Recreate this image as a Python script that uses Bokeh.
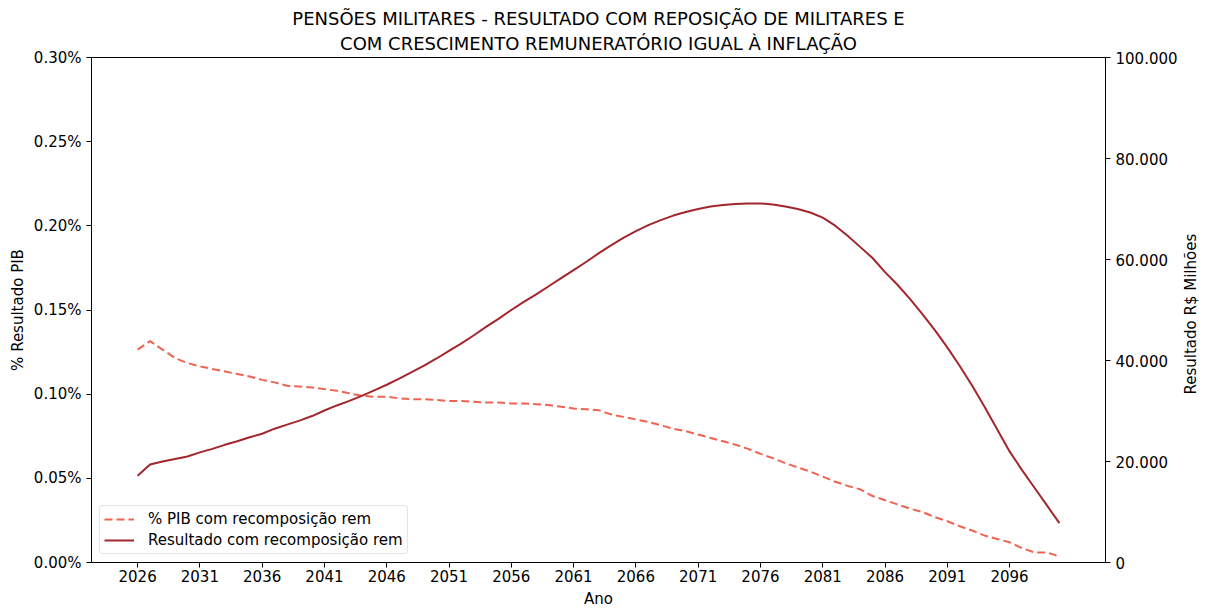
import math
from bokeh.plotting import figure
from bokeh.layouts import row
from bokeh.models import (Range1d, LinearAxis, FixedTicker, CustomJSTickFormatter,
                          Legend, LegendItem, Title)
from bokeh.core.properties import value
from bokeh.embed import file_html
from bokeh.resources import INLINE

years = list(range(2026, 2101))

# % do PIB (valores em %)
pct_pib = [0.1265, 0.1315, 0.1265, 0.1215, 0.1185, 0.1165, 0.1150, 0.1135, 0.1120, 0.1105,
           0.1085, 0.1070, 0.1050, 0.1045, 0.1040, 0.1030, 0.1020, 0.1005, 0.0990, 0.0985,
           0.0985, 0.0975, 0.0970, 0.0970, 0.0965, 0.0960, 0.0960, 0.0955, 0.0950, 0.0950,
           0.0945, 0.0945, 0.0940, 0.0935, 0.0925, 0.0915, 0.0910, 0.0905, 0.0880, 0.0865,
           0.0850, 0.0835, 0.0815, 0.0795, 0.0780, 0.0760, 0.0740, 0.0720, 0.0700, 0.0675,
           0.0645, 0.0620, 0.0590, 0.0565, 0.0540, 0.0510, 0.0480, 0.0455, 0.0435, 0.0395,
           0.0370, 0.0345, 0.0320, 0.0300, 0.0270, 0.0245, 0.0215, 0.0190, 0.0160, 0.0140,
           0.0120, 0.0085, 0.0060, 0.0060, 0.0035]

# Resultado em R$ milhões
resultado = [17200, 19400, 20000, 20500, 21000, 21800, 22500, 23300, 24000, 24800,
             25500, 26500, 27300, 28100, 29000, 30100, 31100, 32000, 33000, 34100,
             35200, 36400, 37700, 39000, 40400, 41900, 43400, 45000, 46700, 48300,
             50000, 51600, 53100, 54700, 56300, 57900, 59500, 61200, 62800, 64300,
             65600, 66800, 67800, 68700, 69400, 70000, 70500, 70800, 71000, 71100,
             71100, 70900, 70500, 70000, 69300, 68300, 66700, 64700, 62500, 60300,
             57500, 55000, 52200, 49200, 46000, 42600, 38900, 35000, 30800, 26400,
             22000, 18300, 14800, 11300, 7800]

x_ticks = list(range(2026, 2100, 5))
left_ticks = [0.0, 0.05, 0.10, 0.15, 0.20, 0.25, 0.30]
right_ticks = [0, 20000, 40000, 60000, 80000, 100000]

title_line1 = "PENSÕES MILITARES - RESULTADO COM REPOSIÇÃO DE MILITARES E"
title_line2 = "COM CRESCIMENTO REMUNERATÓRIO IGUAL À INFLAÇÃO"
right_label = "Resultado R$ Milhões"

FONT = "DejaVu Sans"
FS = "15px"
H = 610

p = figure(width=1180, height=H, output_backend="svg", toolbar_location=None,
           title=None,
           x_range=Range1d(2022.3, 2103.7), y_range=Range1d(0, 0.30),
           min_border_left=91, min_border_right=74, min_border_top=57,
           min_border_bottom=48)
p.extra_y_ranges = {"right": Range1d(0, 100000)}

for txt, so in ((title_line2, 7), (title_line1, -3)):
    t = Title(text=txt, align="center", text_font=FONT, text_font_size="18px",
              text_font_style="normal", text_color="#000000", standoff=so, offset=0)
    p.add_layout(t, "above")

p.grid.visible = False
p.outline_line_color = "#000000"
p.outline_line_width = 1
p.background_fill_color = "white"
p.border_fill_color = "white"

def style_axis(ax):
    ax.axis_line_color = "#000000"
    ax.major_tick_line_color = "#000000"
    ax.major_tick_out = 5
    ax.major_tick_in = 0
    ax.minor_tick_line_color = None
    ax.major_label_text_font = FONT
    ax.major_label_text_font_size = FS
    ax.major_label_text_color = "#000000"
    ax.axis_label_text_font = FONT
    ax.axis_label_text_font_size = FS
    ax.axis_label_text_font_style = "normal"
    ax.axis_label_text_color = "#000000"
    ax.major_label_standoff = 5
    ax.axis_label_standoff = 5

xa = p.xaxis[0]
style_axis(xa)
xa.ticker = FixedTicker(ticks=x_ticks)
xa.axis_label = "Ano"
xa.major_label_standoff = 2
xa.axis_label_standoff = 5

ya = p.yaxis[0]
style_axis(ya)
ya.ticker = FixedTicker(ticks=left_ticks)
ya.formatter = CustomJSTickFormatter(code="return tick.toFixed(2) + '%';")
ya.axis_label = "% Resultado PIB"
ya.axis_label_standoff = 4

ra = LinearAxis(y_range_name="right")
style_axis(ra)
ra.ticker = FixedTicker(ticks=right_ticks)
ra.formatter = CustomJSTickFormatter(code="""
var s = Math.round(tick).toString();
return s.replace(/\\B(?=(\\d{3})+(?!\\d))/g, '.');
""")
p.add_layout(ra, "right")

r1 = p.line(years, pct_pib, line_color="#EF6352", line_width=2, line_dash="8 4")
r2 = p.line(years, resultado, line_color="#A3262C", line_width=2, y_range_name="right")

legend = Legend(items=[LegendItem(label="% PIB com recomposição rem", renderers=[r1]),
                       LegendItem(label="Resultado com recomposição rem", renderers=[r2])],
                location="bottom_left")
legend.label_text_font = FONT
legend.label_text_font_size = FS
legend.label_text_color = "#000000"
legend.border_line_color = "#CCCCCC"
legend.border_line_width = 1
legend.border_radius = 4
legend.background_fill_alpha = 0.8
legend.glyph_width = 30
legend.glyph_height = 18
legend.label_height = 18
legend.spacing = 3
legend.padding = 4
legend.margin = 8
legend.label_standoff = 14
p.add_layout(legend)

# narrow strip holding the right-axis title (reads bottom-to-top)
LW = 25
p2 = figure(width=LW, height=H, output_backend="svg", toolbar_location=None,
            title=None, x_axis_location=None, y_axis_location=None,
            x_range=Range1d(0, LW), y_range=Range1d(0, H),
            min_border=0, min_border_left=0, min_border_right=0,
            min_border_top=0, min_border_bottom=0)
p2.outline_line_color = None
p2.grid.visible = False
p2.background_fill_color = "white"
p2.border_fill_color = "white"
p2.text(x=[10], y=[H - 310], text=[right_label], angle=math.pi / 2,
        text_align="center", text_baseline="middle",
        text_font=value(FONT), text_font_size=FS, text_color="#000000")

layout = row(p, p2, spacing=0)
open("out.html", "w").write(file_html(layout, INLINE))
